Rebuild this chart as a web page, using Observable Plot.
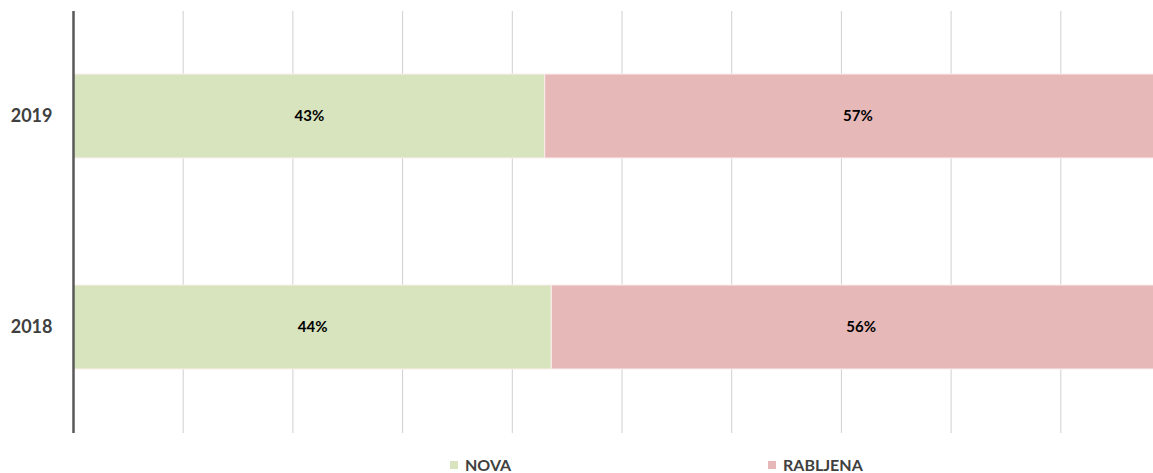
<!DOCTYPE html>
<html>
<head>
<meta charset="utf-8">
<script src="https://cdn.jsdelivr.net/npm/d3@7"></script>
<script src="https://cdn.jsdelivr.net/npm/@observablehq/plot@0.6"></script>
<style>
  html, body { margin: 0; padding: 0; background: #fff; overflow: hidden; }
  #wrap { position: relative; width: 1153px; height: 473px; overflow: hidden; font-family: Lato, "Open Sans", sans-serif; }
  #chart svg { max-width: none !important; display: block; }
  #legend { position: absolute; top: 455px; left: 0; width: 1153px; height: 18px; }
  .item { position: absolute; top: 0; display: flex; align-items: center; font-weight: bold; font-size: 16px; line-height: 19px; color: #404040; }
  .sw { width: 8px; height: 8px; margin-right: 7px; }
</style>
</head>
<body>
<div id="wrap"><div id="chart"></div><div id="legend"></div></div>
<script>
const years = ["2019", "2018"];
const types = ["NOVA", "RABLJENA"];
const nova = [43.0, 43.6];
const rabljena = [57.0, 56.4];
const gridTicks = [10, 20, 30, 40, 50, 60, 70, 80, 90, 100];
const colors = ["#d7e4bd", "#e6b9b8"];

const data = [];
years.forEach((y, i) => {
  data.push({year: y, type: types[0], value: nova[i]});
  data.push({year: y, type: types[1], value: rabljena[i]});
});

const chart = Plot.plot({
  width: 1170,
  height: 445,
  marginLeft: 73,
  marginRight: 0,
  marginTop: 11,
  marginBottom: 12,
  style: {fontFamily: "Lato, 'Open Sans', sans-serif", background: "white", maxWidth: "none"},
  x: {domain: [0, 100], axis: null},
  y: {domain: years, paddingInner: 0.6, paddingOuter: 0.3, label: null},
  color: {domain: types, range: colors},
  marks: [
    Plot.ruleX(gridTicks, {stroke: "#d0d0d0", strokeWidth: 1}),
    Plot.barX(data, Plot.stackX({x: "value", y: "year", z: "type", fill: "type", order: types, stroke: "#fbeeee", strokeWidth: 1})),
    Plot.text(data, Plot.stackX({x: "value", y: "year", z: "type", order: types, text: d => Math.round(d.value) + "%", fontWeight: "bold", fontSize: 15, fill: "#000"})),
    Plot.ruleX([0], {stroke: "#595959", strokeWidth: 2.5}),
    Plot.axisY({tickSize: 0, tickPadding: 21, fontSize: 18, fontWeight: "bold", color: "#404040", label: null})
  ]
});
document.getElementById("chart").appendChild(chart);

const legend = document.getElementById("legend");
const lefts = [450, 768];
types.forEach((t, i) => {
  const item = document.createElement("div");
  item.className = "item";
  item.style.left = lefts[i] + "px";
  const sw = document.createElement("span");
  sw.className = "sw";
  sw.style.background = colors[i];
  item.appendChild(sw);
  const label = document.createElement("span");
  label.textContent = t;
  item.appendChild(label);
  legend.appendChild(item);
});
</script>
</body>
</html>
